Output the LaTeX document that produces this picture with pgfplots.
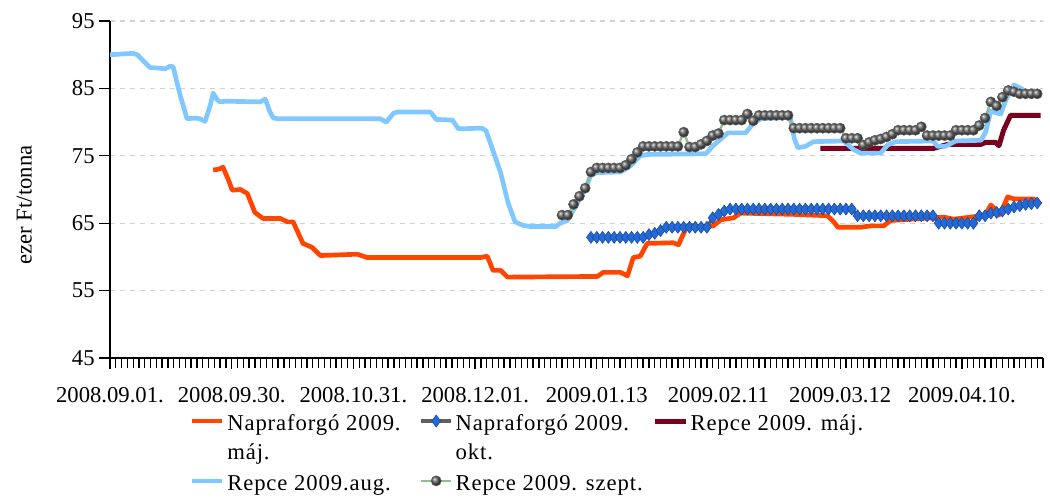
\documentclass[border=0pt]{standalone}
\usepackage{fontspec}
\setmainfont{Liberation Serif}
\usepackage{pgfplots}
\pgfplotsset{compat=1.18}
\usetikzlibrary{plotmarks}
\definecolor{napmaj}{RGB}{255,69,0}
\definecolor{repaug}{RGB}{128,200,255}
\definecolor{repmaj}{RGB}{122,0,32}
\definecolor{diam}{RGB}{35,105,215}
\definecolor{diamline}{RGB}{95,95,95}
\definecolor{szline}{RGB}{143,188,143}
\definecolor{ballc}{RGB}{95,95,95}
\definecolor{gridc}{RGB}{210,210,210}
\newcommand{\cf}{\fontsize{17}{18}\selectfont}
\newcommand{\lf}{\fontsize{17}{22}\selectfont\addfontfeature{LetterSpace=4}}
\newcommand{\two}[2]{\vtop{\hbox{\strut #1}\hbox{\strut #2}}}
\pgfplotsset{ballimage/.style={legend image code/.code={\draw[szline, line width=1.8pt] (0cm,7pt) -- (0.8cm,7pt);
     \draw[##1] plot coordinates {(0.4cm,7pt)};}}}
\begin{document}
\begin{tikzpicture}
\begin{axis}[
  at={(0,0)}, anchor=south west,
  scale only axis,
  width=699.75pt, height=252.75pt,
  xmin=0, xmax=161, ymin=45, ymax=95,
  axis x line*=bottom, axis y line*=left,
  axis line style={line width=1.5pt, black},
  ytick={45,55,65,75,85,95},
  xtick={0,21,42,63,84,105,126,147},
  xticklabels={2008.09.01.,2008.09.30.,2008.10.31.,2008.12.01.,2009.01.13,2009.02.11,2009.03.12,2009.04.10.},
  minor xtick={0,1,...,161},
  tick align=outside,
  major tick length=8pt, minor tick length=7.5pt,
  tick style={line width=1pt, black},
  ymajorgrids, grid style={dash pattern=on 3.75pt off 3.75pt, gridc, line width=0.8pt},
  tick label style={font=\cf},
  /pgf/number format/assume math mode=true,
  xticklabel shift=10.5pt,
  ylabel={ezer Ft/tonna},
  every axis y label/.style={at={(axis description cs:-0.092,0.454)}, rotate=90, anchor=center, font=\fontsize{17}{18}\selectfont},
  legend columns=3,
  legend style={at={(axis description cs:0.085,-0.145)}, anchor=north west, draw=none, fill=none, inner sep=0pt, font=\lf,
    cells={anchor=base west},
    /tikz/column 2/.style={column sep=12pt},
    /tikz/column 4/.style={column sep=5.5pt},
    /tikz/column 6/.style={column sep=0pt},
    row sep=24pt},
  legend image code/.code={\draw[mark repeat=2,mark phase=2,#1] plot coordinates {(0cm,7pt) (0.4cm,7pt) (0.8cm,7pt)};},
]
% Napraforgo 2009. maj
\addplot[napmaj, line width=3.5pt, line join=round] coordinates {
(17.8,72.9) (18.7,73.0) (19.5,73.3) (20.4,71.5) (21.1,69.9) (22.5,70) (23.7,69.4) (25,66.6) (26.4,65.7) (29.4,65.7) (30.6,65.2) (31.6,65.2) (33.3,62) (34.9,61.4) (36.3,60.2) (42.7,60.4) (44.4,59.9) (63.9,59.9) (65.1,60.1) (66.1,58) (67.4,58) (68.6,57) (84.1,57.1) (85.1,57.7) (88.1,57.7) (89.3,57.2) (90.3,59.9) (91.5,60.1) (92.7,62) (97.2,62.1) (98.1,61.8) (99,63.5) (99.7,64.7) (101.9,64.5) (104.1,64.6) (105.4,65.5) (107.6,65.8) (108.8,66.5) (118.3,66.3) (123.8,66.1) (124.9,65.2) (125.6,64.4) (129.5,64.4) (131.3,64.6) (133.5,64.6) (134.7,65.4) (143.9,65.9) (145.6,65.6) (149.4,66) (151.1,66.3) (152,67.7) (152.8,67) (153.4,66.2) (154.2,67.5) (154.9,68.9) (156,68.6) (159.4,68.6) (160.6,67.8)
};
\addlegendentry{\two{Napraforgó 2009.}{máj.}}
% Napraforgo 2009. okt
\addplot[diamline, line width=2.5pt, mark=diamond*, mark size=4.5pt, mark options={solid, fill=diam, draw=diam!70!black, line width=0.4pt}] coordinates {
(83,62.9)(84,62.9)(85,62.9)(86,62.9)(87,62.9)(88,62.9)(89,62.9)(90,62.9)(91,62.9)(92,62.9)
(93,63.3)(94,63.5)(95,63.9)
(96,64.4)(97,64.4)(98,64.4)(99,64.4)(100,64.4)(101,64.4)(102,64.4)(103,64.4)
(104,65.8)(105,66.3)(106,66.8)
(107,67.1)(108,67.1)(109,67.1)(110,67.1)(111,67.1)(112,67.1)(113,67.1)(114,67.1)(115,67.1)(116,67.1)(117,67.1)
(118,67.1)(119,67.1)(120,67.1)(121,67.1)(122,67.1)(123,67.1)(124,67.1)(125,67.1)(126,67.1)(127,67.1)(128,67.1)
(129,66.1)(130,66.1)(131,66.1)(132,66.1)(133,66.1)(134,66.1)(135,66.1)(136,66.1)(137,66.1)(138,66.1)(139,66.1)(140,66.1)(141,66.1)(142,66.1)
(143,65.0)(144,65.0)(145,65.0)(146,65.0)(147,65.0)(148,65.0)(149,65.0)
(150,66.1)(151,66.1)(152,66.5)(153,66.6)(154,66.8)(155,67.1)(156,67.4)(157,67.6)(158,67.8)(159,67.9)(160,68.0)
};
\addlegendentry{\two{Napraforgó 2009.}{okt.}}
% Repce 2009. maj
\addplot[repmaj, line width=3.75pt, line join=round] coordinates {
(122.6,76.1) (142.1,76.1) (144.6,76.7) (150.3,76.7) (151.1,77) (152.8,77) (153.4,76.5) (154.2,78.8) (155.4,81) (160.6,81)
};
\addlegendentry{\strut Repce 2009. máj.}
% Repce 2009.aug.
\addplot[repaug, line width=3.5pt, line join=round] coordinates {
(0,90) (4,90.2) (4.7,90) (6.9,88.1) (8.6,88) (9.5,87.9) (10.4,88.3) (10.9,88.2) (12.1,84) (13.3,80.5) (14.7,80.6) (15.5,80.5) (16.4,80.1) (17.3,82.5) (17.8,84.3) (18.5,83.3) (19,83) (19.9,83.1) (25.9,83) (26.8,83.4) (27.6,81.5) (28.2,80.6) (29,80.5) (46.6,80.5) (47.7,80) (48.9,81.3) (49.6,81.5) (55.3,81.5) (56.3,80.4) (59.1,80.3) (60.1,79) (64.2,79.1) (64.9,78.7) (66,76) (67.4,72.5) (68.7,68) (69.9,65.2) (71.2,64.7) (72.5,64.5) (76.9,64.5) (77.7,65) (78.9,65.4) (80,67) (81,68.5) (82,70) (82.9,72) (83.9,72.5) (88.1,72.6) (89.8,73.5) (91.5,75) (92.7,75.2) (102.8,75.3) (104.1,76.5) (105.4,77.5) (106.6,78.4) (109.7,78.4) (110.9,79.7) (112.3,80.5) (117.4,80.7) (118.1,77.5) (118.7,76.2) (120,76.4) (121.4,77.1) (126.6,77.2) (128.2,76) (129.5,75.4) (133,75.4) (134.2,76.6) (135.6,77.1) (142.1,77.2) (142.8,76.4) (144.2,76.4) (145.9,77.2) (150.3,77.3) (151.1,78.5) (152,81.7) (152.8,81.4) (153.7,81.2) (154.7,83.5) (156,85.5) (157.2,85) (158.4,84.3) (160.6,84.2)
};
\addlegendentry{\strut Repce 2009.aug.}
% Repce 2009. szept. (connecting line)
\addplot[szline, line width=1.8pt, forget plot] coordinates {
(78,66.2)(79,66.2)(80,67.8)(81,69.0)(82,70.2)(83,72.6)
(84,73.2)(85,73.2)(86,73.2)(87,73.2)(88,73.2)
(89,73.6)(90,74.5)(91,75.5)
(92,76.4)(93,76.4)(94,76.4)(95,76.4)(96,76.4)(97,76.4)(98,76.4)
(99,78.5)(100,76.3)(101,76.3)(102,76.7)(103,77.2)(104,78.0)(105,78.3)
(106,80.3)(107,80.3)(108,80.3)(109,80.3)
(110,81.2)(111,80.2)
(112,81.0)(113,81.0)(114,81.0)(115,81.0)(116,81.0)(117,81.0)
(118,79.1)(119,79.1)(120,79.1)(121,79.1)(122,79.1)(123,79.1)(124,79.1)(125,79.1)(126,79.1)
(127,77.6)(128,77.6)(129,77.6)
(130,76.6)(131,77.0)(132,77.3)(133,77.5)(134,77.8)(135,78.2)
(136,78.8)(137,78.8)(138,78.8)(139,78.8)
(140,79.3)
(141,78.0)(142,78.0)(143,78.0)(144,78.0)(145,78.0)
(146,78.8)(147,78.8)(148,78.8)(149,78.8)
(150,79.5)(151,80.6)(152,83.0)(153,82.4)(154,83.7)(155,84.7)(156,84.5)
(157,84.2)(158,84.2)(159,84.2)(160,84.2)
};
% Repce 2009. szept. (markers)
\addplot[ballc, only marks, mark=ball, mark size=3.8pt, mark options={ball color=ballc}, ballimage] coordinates {
(78,66.2)(79,66.2)(80,67.8)(81,69.0)(82,70.2)(83,72.6)
(84,73.2)(85,73.2)(86,73.2)(87,73.2)(88,73.2)
(89,73.6)(90,74.5)(91,75.5)
(92,76.4)(93,76.4)(94,76.4)(95,76.4)(96,76.4)(97,76.4)(98,76.4)
(99,78.5)(100,76.3)(101,76.3)(102,76.7)(103,77.2)(104,78.0)(105,78.3)
(106,80.3)(107,80.3)(108,80.3)(109,80.3)
(110,81.2)(111,80.2)
(112,81.0)(113,81.0)(114,81.0)(115,81.0)(116,81.0)(117,81.0)
(118,79.1)(119,79.1)(120,79.1)(121,79.1)(122,79.1)(123,79.1)(124,79.1)(125,79.1)(126,79.1)
(127,77.6)(128,77.6)(129,77.6)
(130,76.6)(131,77.0)(132,77.3)(133,77.5)(134,77.8)(135,78.2)
(136,78.8)(137,78.8)(138,78.8)(139,78.8)
(140,79.3)
(141,78.0)(142,78.0)(143,78.0)(144,78.0)(145,78.0)
(146,78.8)(147,78.8)(148,78.8)(149,78.8)
(150,79.5)(151,80.6)(152,83.0)(153,82.4)(154,83.7)(155,84.7)(156,84.5)
(157,84.2)(158,84.2)(159,84.2)(160,84.2)
};
\addlegendentry{\strut Repce 2009. szept.}
\end{axis}
\pgfresetboundingbox
\path (-82.5pt,-104.25pt) rectangle (705pt,268.5pt);
\end{tikzpicture}
\end{document}
